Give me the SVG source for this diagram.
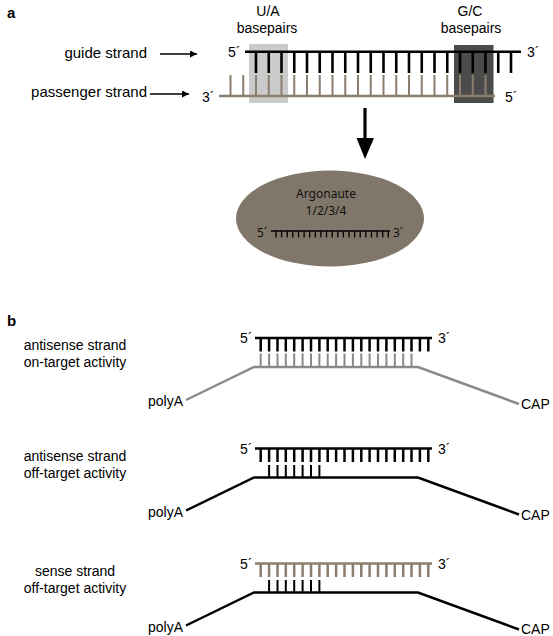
<svg xmlns="http://www.w3.org/2000/svg" width="553" height="636" viewBox="0 0 553 636">
<defs>
<style>
text{font-family:"Liberation Sans",Arial,sans-serif;font-size:14px;fill:#000}
.bold{font-weight:bold;font-size:15px}
.lab{font-size:15px}
.myr{font-family:"Noto Sans","Open Sans",sans-serif;font-size:12px;fill:#111}
.blk{stroke:#000;fill:none}
.brn{stroke:#8b7e6f;fill:none}
.gry{stroke:#8a8a8a;fill:none}
.mid{text-anchor:middle}
.end{text-anchor:end}
</style>
<marker id="ah" viewBox="0 0 10 10" refX="10" refY="5" markerUnits="userSpaceOnUse" markerWidth="9" markerHeight="7" orient="auto">
<path d="M0,0L10,5L0,10z" fill="#000"/>
</marker>
</defs>
<rect width="553" height="636" fill="#fff"/>

<g id="panel-a-label"><text class="bold" x="7" y="18">a</text></g>

<g id="label-guide"><text class="lab end" x="147" y="58">guide strand</text></g>
<g id="label-passenger"><text class="lab end" x="147" y="97">passenger strand</text></g>

<g id="box-ua">
<rect x="249" y="44" width="39" height="59" fill="#cbcbcb"/>
<text class="mid" x="268" y="16">U/A</text>
<text class="mid" x="267" y="32.5">basepairs</text>
</g>
<g id="box-gc">
<rect x="454" y="45" width="39.5" height="58" fill="#4b4b4b"/>
<text class="mid" x="470" y="16">G/C</text>
<text class="mid" x="471" y="32.5">basepairs</text>
</g>

<g id="guide-strand">
<path class="blk" stroke-width="2.5" d="M245 51.7H521"/>
<path class="blk" stroke-width="2.6" d="M256 51.7v21.3M268.75 51.7v21.3M281.5 51.7v21.3M294.25 51.7v21.3M307 51.7v21.3M319.75 51.7v21.3M332.5 51.7v21.3M345.25 51.7v21.3M358 51.7v21.3M370.75 51.7v21.3M383.5 51.7v21.3M396.25 51.7v21.3M409 51.7v21.3M421.75 51.7v21.3M434.5 51.7v21.3M447.25 51.7v21.3M460 51.7v21.3M472.75 51.7v21.3M485.5 51.7v21.3M498.25 51.7v21.3M511 51.7v21.3"/>
<text x="228" y="57">5´</text>
<text x="527" y="57">3´</text>
</g>

<g id="passenger-strand">
<path class="brn" stroke-width="2.5" d="M219 96H495"/>
<path class="brn" stroke-width="2" d="M230.5 75v21M243.25 75v21M256 75v21M268.75 75v21M281.5 75v21M294.25 75v21M307 75v21M319.75 75v21M332.5 75v21M345.25 75v21M358 75v21M370.75 75v21M383.5 75v21M396.25 75v21M409 75v21M421.75 75v21M434.5 75v21M447.25 75v21M460 75v21M472.75 75v21M485.5 75v21"/>
<text x="202" y="101.5">3´</text>
<text x="505" y="101.5">5´</text>
</g>

<g id="argonaute">
<ellipse cx="330" cy="218.5" rx="94" ry="48" fill="#80766a"/>
<text class="myr mid" x="326" y="197.5">Argonaute</text>
<text class="myr mid" x="326" y="214.5">1/2/3/4</text>
<text class="myr" x="257" y="236.5">5´</text>
<text class="myr" x="393" y="236.5">3´</text>
<path class="blk" stroke-width="1.4" d="M271 231H390"/>
<path class="blk" stroke-width="1.3" d="M276 231v6.5M281.6 231v6.5M287.2 231v6.5M292.8 231v6.5M298.5 231v6.5M304.1 231v6.5M309.7 231v6.5M315.3 231v6.5M320.9 231v6.5M326.5 231v6.5M332.2 231v6.5M337.8 231v6.5M343.4 231v6.5M349 231v6.5M354.6 231v6.5M360.2 231v6.5M365.8 231v6.5M371.5 231v6.5M377.1 231v6.5M382.7 231v6.5M388.3 231v6.5"/>
</g>

<g id="panel-b-label"><text class="bold" x="7" y="326">b</text></g>

<g id="row-on-target" transform="translate(0,338)">
<text class="mid" x="75" y="12">antisense strand</text>
<text class="mid" x="75" y="29">on-target activity</text>
<text x="240" y="5">5´</text>
<text x="438" y="5">3´</text>
<path class="blk" stroke-width="2.5" d="M255 0H432"/>
<path class="blk" stroke-width="2.5" d="M260.7 0v13.5M269.1 0v13.5M277.5 0v13.5M285.8 0v13.5M294.2 0v13.5M302.6 0v13.5M311 0v13.5M319.4 0v13.5M327.7 0v13.5M336.1 0v13.5M344.5 0v13.5M352.9 0v13.5M361.3 0v13.5M369.6 0v13.5M378 0v13.5M386.4 0v13.5M394.8 0v13.5M403.2 0v13.5M411.5 0v13.5M419.9 0v13.5M428.3 0v13.5"/>
<path class="gry" stroke-width="2" d="M260.7 15.5v13.5M269.1 15.5v13.5M277.5 15.5v13.5M285.8 15.5v13.5M294.2 15.5v13.5M302.6 15.5v13.5M311 15.5v13.5M319.4 15.5v13.5M327.7 15.5v13.5M336.1 15.5v13.5M344.5 15.5v13.5M352.9 15.5v13.5M361.3 15.5v13.5M369.6 15.5v13.5M378 15.5v13.5M386.4 15.5v13.5M394.8 15.5v13.5M403.2 15.5v13.5M411.5 15.5v13.5"/>
<path class="gry" stroke-width="2.5" d="M186 62L254 29H418L519 66"/>
<text class="end" x="183" y="68">polyA</text>
<text x="521" y="71">CAP</text>
</g>

<g id="row-antisense-off" transform="translate(0,448.5)">
<text class="mid" x="75" y="12">antisense strand</text>
<text class="mid" x="75" y="29">off-target activity</text>
<text x="240" y="5">5´</text>
<text x="438" y="5">3´</text>
<path class="blk" stroke-width="2.5" d="M255 0H432"/>
<path class="blk" stroke-width="2.5" d="M260.7 0v13.5M269.1 0v13.5M277.5 0v13.5M285.8 0v13.5M294.2 0v13.5M302.6 0v13.5M311 0v13.5M319.4 0v13.5M327.7 0v13.5M336.1 0v13.5M344.5 0v13.5M352.9 0v13.5M361.3 0v13.5M369.6 0v13.5M378 0v13.5M386.4 0v13.5M394.8 0v13.5M403.2 0v13.5M411.5 0v13.5M419.9 0v13.5M428.3 0v13.5"/>
<path class="blk" stroke-width="2" d="M269.1 16.5v12.5M277.5 16.5v12.5M285.8 16.5v12.5M294.2 16.5v12.5M302.6 16.5v12.5M311 16.5v12.5M319.4 16.5v12.5"/>
<path class="blk" stroke-width="2.5" d="M186 62L254 29H418L519 66"/>
<text class="end" x="183" y="68">polyA</text>
<text x="521" y="71">CAP</text>
</g>

<g id="row-sense-off" transform="translate(0,563.5)">
<text class="mid" x="75" y="12">sense strand</text>
<text class="mid" x="75" y="29">off-target activity</text>
<text x="240" y="5">5´</text>
<text x="438" y="5">3´</text>
<path class="brn" stroke-width="2.5" d="M255 0H432"/>
<path class="brn" stroke-width="2.5" d="M260.7 0v13.5M269.1 0v13.5M277.5 0v13.5M285.8 0v13.5M294.2 0v13.5M302.6 0v13.5M311 0v13.5M319.4 0v13.5M327.7 0v13.5M336.1 0v13.5M344.5 0v13.5M352.9 0v13.5M361.3 0v13.5M369.6 0v13.5M378 0v13.5M386.4 0v13.5M394.8 0v13.5M403.2 0v13.5M411.5 0v13.5M419.9 0v13.5M428.3 0v13.5"/>
<path class="blk" stroke-width="2" d="M269.1 16.5v12.5M277.5 16.5v12.5M285.8 16.5v12.5M294.2 16.5v12.5M302.6 16.5v12.5M311 16.5v12.5M319.4 16.5v12.5"/>
<path class="blk" stroke-width="2.5" d="M186 62L254 29H418L519 66"/>
<text class="end" x="183" y="68">polyA</text>
<text x="521" y="70.5">CAP</text>
</g>

<g id="connectors">
<line x1="160" y1="54" x2="197" y2="54" stroke="#000" stroke-width="1.3" marker-end="url(#ah)"/>
<line x1="150" y1="94" x2="189" y2="94" stroke="#000" stroke-width="1.3" marker-end="url(#ah)"/>
<line x1="365" y1="108" x2="365" y2="141" stroke="#000" stroke-width="3.2"/>
<polygon points="356.5,138 374,138 365,159" fill="#000"/>
</g>
</svg>
